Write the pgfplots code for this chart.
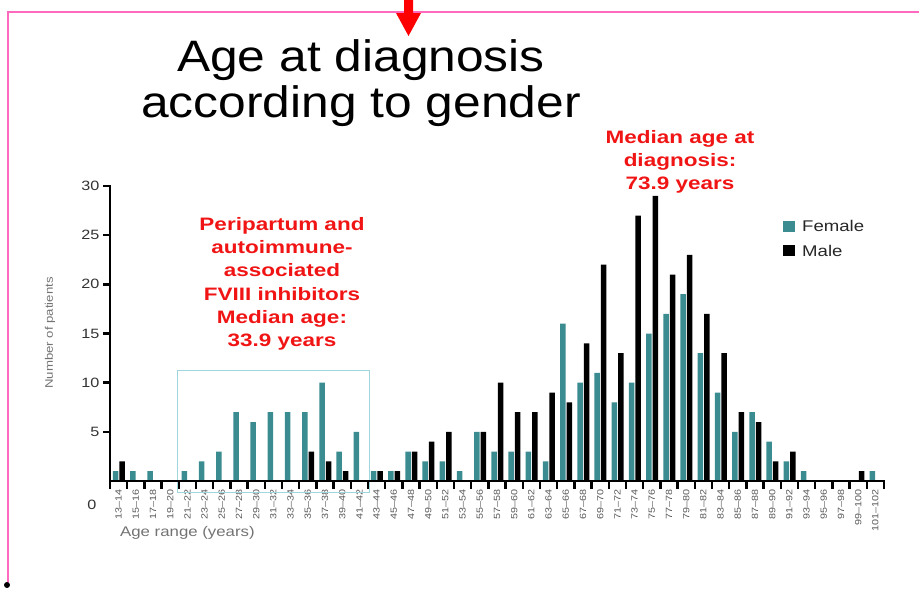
\documentclass[border=0pt]{standalone}
\usepackage{fontspec}
\setmainfont[FakeStretch=1.2]{Liberation Sans}
\newfontfamily\titlefont[FakeStretch=1.13]{Liberation Sans}
\newfontfamily\redfont[FakeStretch=1.25]{Liberation Sans}
\usepackage{pgfplots}
\usepackage{pgfplotstable}
\pgfplotsset{compat=1.18}
\definecolor{fem}{RGB}{58,140,145}
\definecolor{pinkline}{RGB}{255,105,190}
\definecolor{boxc}{RGB}{160,215,220}
\definecolor{redtxt}{RGB}{240,20,20}
\pgfplotstableread{
idx f m
0 1 2
1 1 0
2 1 0
3 0 0
4 1 0
5 2 0
6 3 0
7 7 0
8 6 0
9 7 0
10 7 0
11 7 3
12 10 2
13 3 1
14 5 0
15 1 1
16 1 1
17 3 3
18 2 4
19 2 5
20 1 0
21 5 5
22 3 10
23 3 7
24 3 7
25 2 9
26 16 8
27 10 14
28 11 22
29 8 13
30 10 27
31 15 29
32 17 21
33 19 23
34 13 17
35 9 13
36 5 7
37 7 6
38 4 2
39 2 3
40 1 0
41 0 0
42 0 0
43 0 1
44 1 0
}\data
\begin{document}
\begin{tikzpicture}
\useasboundingbox (0,0) rectangle (919pt,-589pt);
\begin{axis}[
  at={(110pt,-481pt)}, anchor=south west,
  scale only axis, width=774pt, height=295pt,
  xmin=-0.5, xmax=44.5, ymin=0, ymax=30,
  clip=false,
  axis x line*=bottom, axis y line*=left,
  every outer x axis line/.append style={line width=2.8pt, black},
  every outer y axis line/.append style={line width=2.8pt, black},
  tick align=outside,
  major tick length=7pt, minor tick length=8pt,
  xtick={0,...,44},
  xticklabels={13--14,15--16,17--18,19--20,21--22,23--24,25--26,27--28,29--30,31--32,33--34,35--36,37--38,39--40,41--42,43--44,45--46,47--48,49--50,51--52,53--54,55--56,57--58,59--60,61--62,63--64,65--66,67--68,69--70,71--72,73--74,75--76,77--78,79--80,81--82,83--84,85--86,87--88,89--90,91--92,93--94,95--96,97--98,99--100,101--102},
  minor xtick={-0.5,0.5,...,44.5},
  tick style={line width=2.4pt, black},
  minor tick style={line width=2.4pt, black},
  major x tick style={draw=none},
  x tick label style={rotate=90, anchor=east, font=\fontsize{9}{9}\selectfont, text=black!65, inner sep=1.5pt},
  ytick={5,10,...,30},
  /pgf/number format/assume math mode=true,
  y tick label style={font=\fontsize{13.5}{13.5}\selectfont, text=black!80},
  legend style={at={(0.8656,0.898)}, anchor=north west, draw=none, fill=none,
    font=\fontsize{15.5}{15.5}\selectfont, row sep=8pt, text=black!85},
  legend cell align=left,
  legend image code/.code={\fill[#1] (0pt,-5pt) rectangle (12pt,6pt); \path (17pt,0pt);},
]
\draw[boxc, line width=1pt] (axis cs:3.40,-1.12) rectangle (axis cs:14.56,11.19);
\addplot[ybar, bar width=5.5pt, bar shift=-3pt, fill=fem, draw=none] table[x=idx,y=f]{\data};
\addplot[ybar, bar width=5.5pt, bar shift=3.5pt, fill=black, draw=none] table[x=idx,y=m]{\data};
\legend{Female, Male}
\draw[black, line width=2.8pt, line cap=rect] (axis cs:-0.5,0) -- (axis cs:44.5,0);
\draw[black, line width=2.8pt, line cap=rect] (axis cs:-0.5,0) -- (axis cs:-0.5,30);
\end{axis}
\begin{scope}[x=1pt,y=1pt]
\draw[pinkline, line width=2pt] (919,-12) -- (8,-12) -- (8,-585);
\fill[black] (7,-585) circle (3);
\fill[red] (404,0) -- (413,0) -- (413,-13) -- (421,-13) -- (408.5,-36) -- (396,-13) -- (404,-13) -- cycle;
\node[anchor=base, font=\titlefont\fontsize{44}{44}\selectfont] at (361,-71) {Age at diagnosis};
\node[anchor=base, font=\titlefont\fontsize{44}{44}\selectfont] at (361,-117) {according to gender};
\node[anchor=base, text=redtxt, font=\redfont\bfseries\fontsize{18}{18}\selectfont] at (282,-230.5) {Peripartum and};
\node[anchor=base, text=redtxt, font=\redfont\bfseries\fontsize{18}{18}\selectfont] at (282,-253.7) {autoimmune-};
\node[anchor=base, text=redtxt, font=\redfont\bfseries\fontsize{18}{18}\selectfont] at (282,-276.9) {associated};
\node[anchor=base, text=redtxt, font=\redfont\bfseries\fontsize{18}{18}\selectfont] at (282,-300.1) {FVIII inhibitors};
\node[anchor=base, text=redtxt, font=\redfont\bfseries\fontsize{18}{18}\selectfont] at (282,-323.3) {Median age:};
\node[anchor=base, text=redtxt, font=\redfont\bfseries\fontsize{18}{18}\selectfont] at (282,-346.5) {33.9 years};
\node[anchor=base, text=redtxt, font=\redfont\bfseries\fontsize{18}{18}\selectfont] at (680,-143.5) {Median age at};
\node[anchor=base, text=redtxt, font=\redfont\bfseries\fontsize{18}{18}\selectfont] at (680,-166.5) {diagnosis:};
\node[anchor=base, text=redtxt, font=\redfont\bfseries\fontsize{18}{18}\selectfont] at (680,-189.5) {73.9 years};
\node[font=\fontsize{13.5}{13.5}\selectfont, text=black!80] at (92,-505) {0};
\node[rotate=90, font=\fontsize{11}{11}\selectfont, text=black!55] at (50,-333) {Number of patients};
\node[anchor=west, font=\fontsize{14}{14}\selectfont, text=black!55, inner sep=0pt] at (120,-533) {Age range (years)};
\end{scope}
\end{tikzpicture}
\end{document}
